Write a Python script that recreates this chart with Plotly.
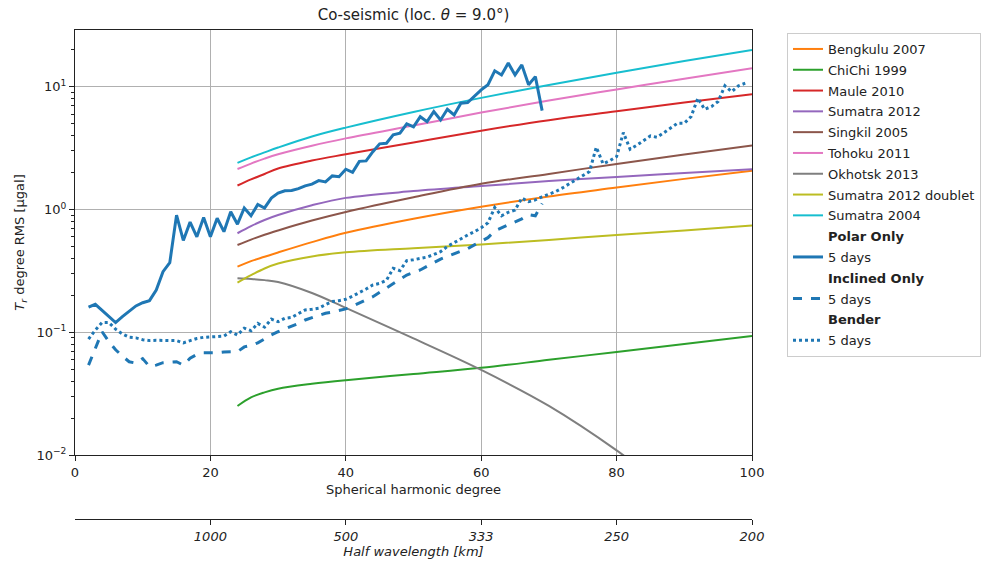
import plotly.graph_objects as go

# ---------------- data ----------------
quake_deg = [24, 26, 28, 30, 35, 40, 50, 60, 70, 80, 90, 100]
bengkulu_2007 = [0.343, 0.380, 0.412, 0.447, 0.543, 0.646, 0.841, 1.054, 1.279, 1.510, 1.778, 2.075]
chichi_1999 = [0.0251, 0.0295, 0.0324, 0.0347, 0.0380, 0.0407, 0.0457, 0.0513, 0.0596, 0.0692, 0.0804, 0.0933]
maule_2010 = [1.57, 1.76, 1.95, 2.16, 2.51, 2.82, 3.52, 4.39, 5.35, 6.31, 7.45, 8.71]
sumatra_2012 = [0.641, 0.733, 0.822, 0.902, 1.084, 1.245, 1.413, 1.556, 1.706, 1.845, 1.986, 2.128]
singkil_2005 = [0.514, 0.569, 0.624, 0.676, 0.813, 0.955, 1.259, 1.622, 1.950, 2.355, 2.805, 3.319]
tohoku_2011 = [2.14, 2.37, 2.60, 2.82, 3.31, 3.80, 4.84, 6.17, 7.74, 9.51, 11.64, 14.16]
okhotsk_2013 = [0.275, 0.272, 0.266, 0.257, 0.209, 0.158, 0.0891, 0.0493, 0.0251, 0.0109, 0.00417, 0.00151]
sumatra_2012_doublet = [0.254, 0.292, 0.331, 0.363, 0.415, 0.448, 0.484, 0.519, 0.566, 0.619, 0.676, 0.740]
sumatra_2004 = [2.40, 2.66, 2.92, 3.20, 3.94, 4.65, 6.24, 8.13, 10.35, 13.03, 16.2, 19.95]

quake_names = ["Bengkulu 2007", "ChiChi 1999", "Maule 2010", "Sumatra 2012", "Singkil 2005",
               "Tohoku 2011", "Okhotsk 2013", "Sumatra 2012 doublet", "Sumatra 2004"]
quake_values = [bengkulu_2007, chichi_1999, maule_2010, sumatra_2012, singkil_2005,
                tohoku_2011, okhotsk_2013, sumatra_2012_doublet, sumatra_2004]

polar_deg = list(range(2, 70))
polar_5d = [0.160, 0.169, 0.151, 0.134, 0.120, 0.134, 0.149, 0.164, 0.174, 0.181,
            0.221, 0.312, 0.369, 0.90, 0.56, 0.79, 0.60, 0.86, 0.60, 0.85,
            0.66, 0.96, 0.76, 1.03, 0.89, 1.10, 1.03, 1.24, 1.36, 1.42,
            1.43, 1.48, 1.56, 1.61, 1.72, 1.68, 1.88, 1.85, 2.13, 2.01,
            2.47, 2.49, 2.96, 3.43, 3.47, 4.06, 4.19, 4.99, 4.72, 5.71,
            5.20, 6.28, 5.37, 6.56, 5.90, 7.35, 7.43, 8.43, 9.44, 10.4,
            13.5, 12.5, 15.6, 12.5, 15.1, 10.4, 12.1, 6.4]

inclined_deg = list(range(2, 70))
inclined_5d = [0.054, 0.074, 0.101, 0.084, 0.072, 0.064, 0.0575, 0.056, 0.061, 0.0525,
               0.054, 0.0565, 0.057, 0.0575, 0.054, 0.0614, 0.066, 0.068, 0.068, 0.068,
               0.069, 0.069, 0.0695, 0.076, 0.078, 0.082, 0.089, 0.095, 0.101, 0.106,
               0.111, 0.118, 0.126, 0.132, 0.138, 0.143, 0.146, 0.150, 0.155, 0.163,
               0.174, 0.184, 0.195, 0.212, 0.230, 0.250, 0.270, 0.293, 0.307, 0.322,
               0.345, 0.370, 0.395, 0.415, 0.435, 0.454, 0.48, 0.515, 0.547, 0.59,
               0.67, 0.71, 0.75, 0.80, 0.84, 0.91, 0.89, 1.12]

bender_deg = list(range(2, 100))
bender_5d = [0.088, 0.104, 0.120, 0.120, 0.106, 0.097, 0.091, 0.090, 0.087, 0.0855,
             0.086, 0.086, 0.086, 0.0855, 0.082, 0.086, 0.089, 0.091, 0.092, 0.092,
             0.093, 0.101, 0.095, 0.108, 0.103, 0.118, 0.110, 0.128, 0.122, 0.130,
             0.132, 0.142, 0.152, 0.154, 0.157, 0.168, 0.178, 0.181, 0.186, 0.197,
             0.210, 0.225, 0.243, 0.250, 0.265, 0.332, 0.318, 0.383, 0.39, 0.40,
             0.41, 0.43, 0.454, 0.50, 0.54, 0.58, 0.62, 0.66, 0.71, 0.78,
             1.04, 0.89, 0.95, 0.99, 1.24, 1.16, 1.20, 1.27, 1.33, 1.40,
             1.50, 1.62, 1.74, 1.88, 2.04, 3.22, 2.36, 2.50, 2.70, 4.24,
             3.10, 3.35, 3.65, 3.98, 3.88, 4.25, 4.60, 5.05, 5.05, 5.72,
             8.07, 6.56, 6.90, 7.60, 10.2, 9.14, 10.2, 10.7]

deg_ticks = [0, 20, 40, 60, 80, 100]
halfwl_tick_deg = [20, 40, 60, 80, 100]
halfwl_labels = ["1000", "500", "333", "250", "200"]
y_ticks = [0.01, 0.1, 1, 10]
y_ticklabels = ["10<sup>−2</sup>", "10<sup>−1</sup>", "10<sup>0</sup>", "10<sup>1</sup>"]

# ---------------- style ----------------
quake_colors = ["#ff7f0e", "#2ca02c", "#d62728", "#9467bd", "#8c564b",
                "#e377c2", "#7f7f7f", "#bcbd22", "#17becf"]
blue = "#1f77b4"
FONT = "DejaVu Sans"

fig = go.Figure()
grp = 0
for name, vals, col in zip(quake_names, quake_values, quake_colors):
    grp += 1
    fig.add_trace(go.Scatter(x=quake_deg, y=vals, mode="lines", name=name,
                             line=dict(color=col, width=2, shape="spline"),
                             legendgroup=f"g{grp}", hoverinfo="skip"))

def header(label):
    global grp
    grp += 1
    fig.add_trace(go.Scatter(x=[None], y=[None], mode="lines", name=f"<b>{label}</b>",
                             line=dict(color="rgba(0,0,0,0)", width=0),
                             legendgroup=f"g{grp}", hoverinfo="skip"))

def series(x, y, dash):
    global grp
    grp += 1
    fig.add_trace(go.Scatter(x=x, y=y, mode="lines", name="5 days",
                             line=dict(color=blue, width=3, dash=dash),
                             legendgroup=f"g{grp}", hoverinfo="skip"))

header("Polar Only")
series(polar_deg, polar_5d, "solid")
header("Inclined Only")
series(inclined_deg, inclined_5d, "dash")
header("Bender")
series(bender_deg, bender_5d, "dot")

# dummy trace to activate the secondary (half wavelength) axis
fig.add_trace(go.Scatter(x=[0, 100], y=[None, None], xaxis="x2", yaxis="y",
                         mode="lines", showlegend=False, hoverinfo="skip"))

W, H = 984, 564
ml, mr, mt, mb = 75, 232, 30, 45
paper_h = H - mt - mb
plot_bottom_px = 455
y_dom0 = ((H - mb) - plot_bottom_px) / paper_h

minor_vals = [m * 10 ** e for e in (-2, -1, 0, 1) for m in range(2, 10)]

fig.update_layout(
    width=W, height=H,
    margin=dict(l=ml, r=mr, t=mt, b=mb, autoexpand=False),
    paper_bgcolor="white", plot_bgcolor="white",
    font=dict(family=FONT, size=13, color="#222222"),
    title=dict(text="Co-seismic (loc. <i>θ</i> = 9.0°)", x=(ml + 677 / 2) / W, xanchor="center",
               y=1 - 15 / H, yanchor="middle", font=dict(size=15, color="#222222")),
    showlegend=True,
    legend=dict(x=(787 - ml) / 677, xanchor="left", y=1 - 3 / paper_h, yanchor="top",
                bordercolor="#cccccc", borderwidth=1, bgcolor="white",
                traceorder="grouped", tracegroupgap=0.9,
                font=dict(size=13, color="#222222"), itemwidth=30),
    xaxis=dict(range=[0, 100], domain=[0, 1], anchor="y",
               tickvals=deg_ticks, ticks="outside", ticklen=5, tickcolor="#222",
               showline=True, linecolor="#222", linewidth=1, mirror=True,
               showgrid=True, gridcolor="#b0b0b0", gridwidth=1, zeroline=False,
               title=dict(text="Spherical harmonic degree", standoff=6, font=dict(size=13)),
               automargin=False),
    xaxis2=dict(range=[0, 100], overlaying="x", anchor="free", position=0, side="bottom",
                tickvals=halfwl_tick_deg, ticktext=halfwl_labels, ticks="outside", ticklen=5,
                tickcolor="#222", showline=True, linecolor="#222", linewidth=1.2,
                showgrid=False, zeroline=False,
                tickfont=dict(size=13, style="italic"),
                title=dict(text="<i>Half wavelength [km]</i>", standoff=4, font=dict(size=13)),
                automargin=False),
    yaxis=dict(type="log", range=[-2, 1.463], domain=[y_dom0, 1], anchor="x",
               tickvals=y_ticks, ticktext=y_ticklabels, ticks="outside", ticklen=5,
               tickcolor="#222", showline=True, linecolor="#222", linewidth=1, mirror=True,
               showgrid=True, gridcolor="#b0b0b0", gridwidth=1, zeroline=False,
               minor=dict(tickvals=minor_vals, ticks="outside", ticklen=3, tickcolor="#222",
                          showgrid=False),
               title=dict(text="<i>T<sub>r</sub></i> degree RMS [μgal]", standoff=8,
                          font=dict(size=13)),
               automargin=False),
)

fig.write_html("out.html")
